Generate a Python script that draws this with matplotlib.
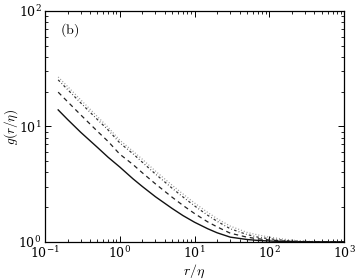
import matplotlib
matplotlib.use('Agg')
import matplotlib.pyplot as plt

# values
r = [0.15, 0.2, 0.3, 0.5, 0.7, 1, 1.5, 2, 3, 5, 7, 10, 15, 20, 30, 50, 70,
     100, 150, 200, 300, 500, 1000]
g_solid = [13.9, 11.5, 8.9, 6.6, 5.4, 4.45, 3.52, 3.02, 2.46, 1.95, 1.69, 1.48,
           1.30, 1.20, 1.10, 1.05, 1.03, 1.018, 1.008, 1.004, 1.001, 1.0, 1.0]
g_dashed = [19.8, 16.4, 12.6, 9.1, 7.4, 5.75, 4.68, 3.97, 3.18, 2.44, 2.07, 1.76,
            1.49, 1.35, 1.19, 1.10, 1.065, 1.04, 1.02, 1.01, 1.004, 1.001, 1.0]
g_dashdot = [25.3, 20.9, 16.0, 11.5, 9.3, 7.2, 5.8, 4.9, 3.87, 2.92, 2.45, 2.05,
             1.70, 1.51, 1.30, 1.16, 1.10, 1.065, 1.035, 1.02, 1.008, 1.002, 1.0]
g_dotted = [26.8, 22.2, 17.0, 12.2, 9.8, 7.6, 6.1, 5.2, 4.1, 3.1, 2.6, 2.17,
            1.80, 1.59, 1.37, 1.21, 1.15, 1.10, 1.06, 1.035, 1.015, 1.004, 1.0]

plt.rcParams['mathtext.fontset'] = 'cm'
plt.rcParams['font.family'] = 'serif'
plt.rcParams['font.serif'] = ['DejaVu Serif']
plt.rcParams['font.size'] = 9

fig = plt.figure(figsize=(3.6, 2.8), dpi=100)
ax = fig.add_axes([0.125, 0.136, 0.831, 0.825])

ax.plot(r, g_dotted, color='#9a9a9a', lw=0.9, linestyle=(0, (0.8, 1.6)))
ax.plot(r, g_dashdot, color='#333333', lw=0.9, linestyle=(0, (2.0, 1.8, 0.6, 1.8)))
ax.plot(r, g_dashed, color='#222222', lw=0.9, linestyle=(0, (3.5, 3.0)))
ax.plot(r, g_solid, color='#111111', lw=1.0)

ax.set_xscale('log')
ax.set_yscale('log')
ax.set_xlim(1e-1, 1e3)
ax.set_ylim(1e0, 1e2)

ax.tick_params(which='both', direction='in', top=True, right=True)
ax.tick_params(which='major', length=4, width=0.7, pad=2.5)
ax.tick_params(which='minor', length=2, width=0.6)
for s in ax.spines.values():
    s.set_linewidth(0.9)

ax.set_xlabel(r'$r/\eta$', fontsize=10)
ax.xaxis.set_label_coords(0.5, -0.09)
ax.set_ylabel(r'$g(r/\eta)$', fontsize=9.5)
ax.yaxis.set_label_coords(-0.085, 0.5)
ax.text(0.05, 0.955, r'$\mathrm{(b)}$', transform=ax.transAxes, fontsize=10,
        va='top', ha='left')

fig.savefig('out.png', dpi=100)
